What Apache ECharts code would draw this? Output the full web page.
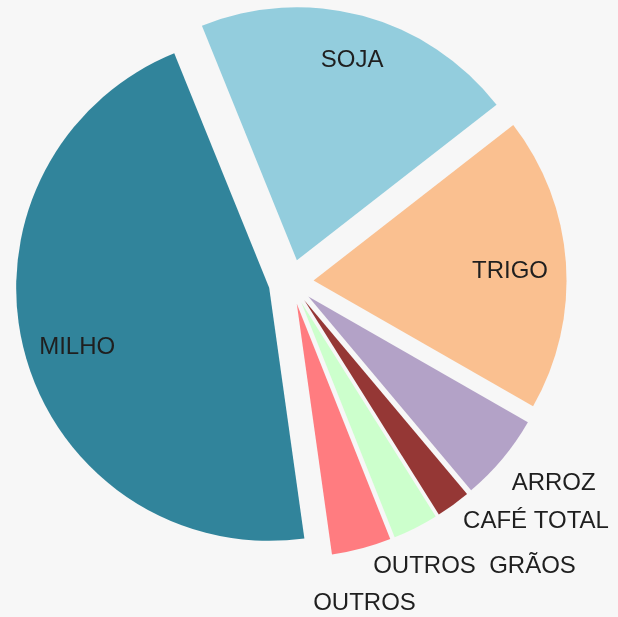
<!DOCTYPE html>
<html>
<head>
<meta charset="utf-8">
<script src="https://cdn.jsdelivr.net/npm/echarts@6/dist/echarts.min.js"></script>
<style>
html, body { margin: 0; padding: 0; background: #f7f7f7; }
#chart { width: 618px; height: 617px; }
</style>
</head>
<body>
<div id="chart"></div>
<script>
const categories = ['MILHO', 'SOJA', 'TRIGO', 'ARROZ', 'CAFÉ TOTAL', 'OUTROS  GRÃOS', 'OUTROS'];
const shares = [46.1, 20.6, 18.8, 5.6, 2.2, 2.9, 3.8];

const colors = ['#31849b', '#93cddd', '#fac090', '#b3a2c7', '#953735', '#ccffcc', '#ff7c80'];

// how each label sits: big slices get it inside (nudged a little), thin ones outside without a line
const labelStyle = {
    'MILHO': { inside: true, nudge: [6, 6] },
    'SOJA': { inside: true, nudge: [2, -2] },
    'TRIGO': { inside: true, nudge: [-8, 5] },
    'ARROZ': { len: 38, len2: -20 },
    'CAFÉ TOTAL': { len: 20, len2: -2 },
    'OUTROS  GRÃOS': { len: 43, len2: -62 },
    'OUTROS': { len: 57, len2: -63 }
};

const center = [291, 282];
const R = 253;
const pull = 22.6;
const font = { fontFamily: '"Liberation Sans", Arial, sans-serif', fontSize: 24, color: '#1f1f1f' };

const chart = echarts.init(document.getElementById('chart'));

const option = {
    backgroundColor: '#f7f7f7',
    animation: false,
    series: [
        {
            // the slices themselves
            type: 'pie',
            center: center,
            radius: [0, R],
            startAngle: -82,
            clockwise: true,
            selectedMode: 'multiple',
            selectedOffset: pull,
            silent: true,
            label: { show: false },
            labelLine: { show: false },
            data: categories.map((name, i) => ({
                name: name,
                value: shares[i],
                selected: true,
                itemStyle: { color: colors[i] }
            }))
        },
        {
            // invisible ring carrying the labels
            type: 'pie',
            center: center,
            radius: [151, R],
            startAngle: -82,
            clockwise: true,
            selectedMode: 'multiple',
            selectedOffset: pull,
            silent: true,
            avoidLabelOverlap: false,
            itemStyle: { color: 'rgba(0,0,0,0)' },
            labelLayout: (params) => {
                const s = labelStyle[categories[params.dataIndex]];
                return s.nudge ? { dx: s.nudge[0], dy: s.nudge[1] } : {};
            },
            data: categories.map((name, i) => {
                const s = labelStyle[name];
                return {
                    name: name,
                    value: shares[i],
                    selected: true,
                    label: s.inside
                        ? Object.assign({ show: true, position: 'inside' }, font)
                        : Object.assign({ show: true, position: 'outside', distanceToLabelLine: 0 }, font),
                    labelLine: s.inside
                        ? { show: false }
                        : { show: false, length: s.len, length2: s.len2 }
                };
            })
        }
    ]
};

chart.setOption(option);
</script>
</body>
</html>
